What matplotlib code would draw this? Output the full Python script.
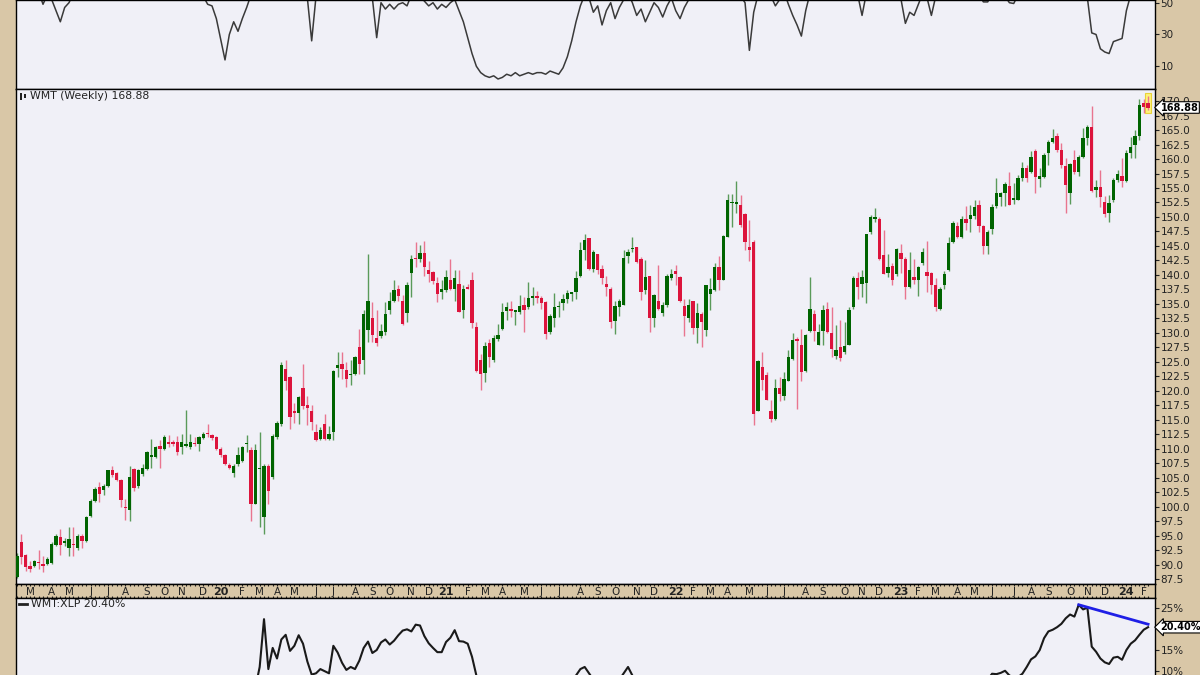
import numpy as np
import pandas as pd
import matplotlib
matplotlib.use("Agg")
import matplotlib.pyplot as plt
from matplotlib.patches import Rectangle
from matplotlib.transforms import blended_transform_factory

# weekly bars, Feb 2019 - Feb 2024
weeks = pd.date_range("2019-02-08", periods=262, freq="W-FRI")

opens = [88.0, 93.9, 91.8, 89.9, 89.8, 90.5, 90.2, 90.2, 90.3, 93.5,
         94.8, 93.8, 93.0, 93.6, 93.0, 95.0, 94.1, 98.5, 101.0, 103.4,
         102.9, 103.7, 106.3, 105.8, 104.7, 100.0, 99.4, 106.6, 103.7, 105.7,
         106.6, 108.6, 108.6, 110.6, 110.0, 111.2, 111.2, 111.2, 110.3, 110.6,
         110.3, 111.0, 110.9, 111.9, 112.8, 112.4, 112.1, 110.0, 109.0, 107.3,
         105.8, 107.4, 108.0, 110.8, 109.8, 100.6, 106.6, 98.3, 107.1, 105.1,
         112.0, 114.3, 123.8, 122.4, 116.5, 116.2, 120.5, 117.5, 116.6, 113.0,
         111.7, 114.3, 111.7, 112.9, 124.0, 124.7, 123.7, 122.7, 123.0, 127.6,
         125.4, 130.5, 132.6, 129.2, 129.4, 130.2, 133.9, 135.5, 137.6, 135.5,
         133.4, 140.4, 142.8, 142.7, 143.8, 140.8, 140.6, 138.7, 137.1, 137.4,
         139.1, 137.6, 138.5, 134.0, 137.9, 139.1, 131.1, 125.3, 123.1, 128.3,
         125.3, 129.0, 130.7, 133.8, 134.2, 133.7, 133.6, 134.8, 134.4, 136.0,
         136.3, 136.1, 135.3, 130.2, 132.5, 134.4, 135.1, 135.8, 136.8, 137.1,
         139.9, 144.3, 146.3, 141.1, 143.6, 141.1, 138.4, 137.6, 132.1, 134.5,
         134.9, 143.2, 144.5, 144.8, 142.8, 137.4, 139.8, 132.5, 135.6, 133.4,
         134.8, 139.4, 140.7, 139.7, 134.6, 132.5, 135.5, 130.9, 133.3, 130.6,
         136.7, 137.4, 141.3, 139.2, 146.6, 152.4, 152.3, 152.0, 150.6, 144.8,
         145.7, 116.6, 124.1, 122.7, 116.6, 115.2, 120.5, 119.1, 121.8, 125.5,
         129.0, 127.9, 123.4, 130.4, 133.3, 128.0, 130.3, 134.2, 130.0, 126.1,
         127.5, 126.7, 128.0, 134.5, 139.4, 138.5, 138.6, 147.4, 149.6, 149.7,
         143.4, 140.3, 141.5, 140.1, 143.8, 142.8, 137.9, 139.6, 139.2, 142.1,
         140.5, 140.4, 138.2, 134.2, 138.2, 140.8, 145.7, 148.4, 146.5, 149.7,
         149.7, 150.1, 152.0, 148.4, 145.0, 148.0, 151.9, 153.4, 154.1, 155.3,
         153.0, 153.0, 156.8, 158.5, 157.8, 161.3, 156.6, 156.9, 161.0, 163.0,
         164.0, 161.5, 158.8, 154.2, 159.8, 157.8, 160.4, 163.6, 165.6, 154.6,
         155.1, 152.6, 150.7, 152.9, 156.4, 157.0, 156.2, 161.1, 162.4, 164.0,
         169.7, 169.6]

highs = [92.0, 95.4, 91.9, 90.7, 90.8, 92.6, 91.6, 91.3, 93.9, 95.3,
         96.2, 94.6, 96.5, 96.5, 95.3, 95.3, 98.5, 101.4, 103.4, 104.3,
         104.0, 106.4, 107.1, 106.0, 104.8, 101.4, 107.1, 106.8, 106.6, 107.4,
         109.7, 111.7, 110.6, 111.6, 112.4, 112.4, 111.5, 112.3, 112.6, 116.7,
         112.6, 112.0, 112.3, 112.9, 114.3, 112.6, 112.3, 110.3, 109.2, 107.5,
         107.4, 110.3, 110.6, 112.4, 110.3, 110.9, 112.9, 107.4, 107.4, 112.6,
         114.9, 125.0, 125.4, 122.5, 118.0, 119.2, 124.7, 119.2, 117.5, 114.3,
         113.8, 116.0, 114.0, 123.7, 126.7, 126.7, 125.0, 125.3, 126.1, 130.7,
         133.9, 143.7, 135.3, 133.9, 131.6, 135.3, 137.1, 139.1, 138.2, 136.5,
         138.8, 143.4, 145.7, 145.1, 145.9, 142.4, 140.7, 139.7, 139.1, 140.9,
         142.8, 140.9, 140.8, 138.2, 138.5, 140.5, 131.9, 126.4, 128.4, 129.0,
         129.6, 131.6, 135.1, 135.3, 135.6, 134.0, 136.5, 136.2, 138.8, 137.9,
         137.2, 136.3, 135.6, 133.3, 136.9, 135.6, 136.8, 137.4, 137.0, 140.7,
         145.7, 147.0, 146.4, 144.3, 143.7, 141.7, 139.9, 137.9, 135.6, 135.9,
         144.3, 144.4, 146.6, 144.9, 143.1, 142.5, 139.9, 136.8, 141.8, 135.3,
         140.2, 141.1, 141.8, 139.8, 135.9, 135.9, 135.5, 135.1, 133.6, 138.2,
         139.4, 142.0, 143.2, 146.9, 153.9, 153.9, 156.2, 153.8, 150.7, 149.4,
         146.0, 125.3, 126.7, 123.3, 118.4, 122.1, 122.4, 123.3, 127.0, 130.0,
         129.3, 130.7, 129.9, 139.7, 133.9, 131.6, 134.8, 135.3, 134.5, 131.3,
         132.3, 131.9, 134.5, 139.9, 140.5, 140.8, 147.1, 150.3, 151.5, 150.0,
         147.7, 143.6, 142.0, 144.6, 145.3, 143.1, 144.0, 142.8, 141.5, 144.7,
         145.9, 140.5, 139.4, 137.9, 140.7, 146.6, 149.3, 149.2, 150.1, 151.9,
         152.0, 153.0, 152.9, 148.6, 147.7, 152.3, 156.8, 154.3, 156.1, 157.8,
         155.8, 157.2, 159.5, 158.9, 161.3, 161.8, 158.4, 161.0, 163.3, 165.1,
         164.5, 162.8, 160.1, 159.3, 161.5, 160.7, 165.4, 165.9, 169.1, 156.4,
         158.1, 153.6, 153.8, 156.8, 158.1, 160.1, 161.5, 163.8, 165.0, 170.3,
         170.3, 170.9]

lows = [87.8, 90.2, 89.0, 88.8, 89.6, 89.3, 88.8, 90.0, 90.2, 93.3,
        91.8, 93.2, 91.6, 91.5, 92.6, 93.0, 93.9, 98.2, 100.8, 100.8,
        102.0, 103.5, 105.1, 104.5, 100.0, 97.8, 97.5, 102.8, 103.3, 105.4,
        106.4, 106.8, 108.5, 106.8, 109.8, 110.3, 110.6, 108.9, 109.2, 110.3,
        110.0, 110.6, 109.7, 111.7, 112.1, 111.6, 109.8, 108.6, 107.3, 106.6,
        105.2, 107.1, 107.7, 109.4, 97.6, 100.5, 96.5, 95.3, 100.5, 104.8,
        111.7, 114.0, 120.1, 113.5, 114.5, 114.3, 116.9, 114.2, 113.2, 111.3,
        111.5, 111.5, 111.5, 111.5, 122.4, 122.1, 120.7, 121.0, 122.7, 123.0,
        123.0, 128.4, 128.4, 127.7, 129.2, 129.6, 133.3, 135.3, 135.6, 131.3,
        131.9, 136.2, 141.4, 142.3, 139.9, 138.8, 138.5, 135.3, 135.9, 137.1,
        137.4, 135.6, 133.6, 132.5, 137.5, 130.9, 123.3, 120.2, 121.5, 124.1,
        125.0, 128.7, 130.5, 132.2, 132.8, 131.3, 133.3, 130.2, 134.2, 134.8,
        135.1, 134.2, 129.0, 129.9, 131.0, 132.8, 133.9, 135.1, 135.6, 135.9,
        139.7, 142.5, 140.8, 140.5, 140.2, 138.5, 136.3, 130.9, 129.8, 133.0,
        134.8, 142.0, 144.0, 142.0, 135.7, 136.8, 130.2, 131.0, 133.9, 133.0,
        134.5, 139.1, 138.2, 135.3, 129.5, 131.9, 129.8, 128.3, 127.6, 129.4,
        133.9, 137.2, 137.4, 139.1, 146.6, 148.3, 150.7, 148.3, 144.3, 142.4,
        114.1, 116.6, 120.1, 118.4, 114.6, 115.0, 118.2, 118.4, 121.7, 125.3,
        116.9, 121.8, 123.3, 130.2, 128.7, 127.9, 127.9, 130.0, 125.8, 125.6,
        125.2, 126.4, 127.9, 134.2, 135.9, 136.2, 135.2, 147.0, 149.2, 142.5,
        140.1, 139.7, 138.2, 139.9, 140.4, 135.8, 137.8, 138.4, 136.3, 141.7,
        137.1, 136.8, 133.8, 134.0, 137.6, 140.7, 145.5, 146.3, 146.3, 147.7,
        147.4, 149.7, 147.4, 143.6, 143.6, 147.1, 151.6, 151.9, 151.9, 152.0,
        152.3, 152.9, 156.2, 156.1, 157.6, 154.1, 155.2, 156.8, 158.9, 162.8,
        161.2, 158.5, 150.7, 152.3, 157.5, 157.1, 160.1, 162.4, 154.3, 153.4,
        151.8, 150.0, 149.2, 152.6, 156.1, 155.2, 156.1, 160.1, 160.1, 163.2,
        168.0, 168.4]

closes = [91.6, 91.3, 89.6, 89.3, 90.7, 90.3, 89.8, 91.0, 93.6, 95.0,
          93.5, 94.1, 94.5, 93.5, 95.0, 94.1, 98.2, 101.1, 103.1, 102.2,
          103.7, 106.3, 105.6, 104.7, 101.2, 99.8, 105.2, 103.3, 106.4, 106.8,
          109.4, 108.9, 110.4, 110.0, 112.1, 110.8, 110.9, 109.4, 111.2, 110.9,
          111.2, 110.8, 112.0, 112.6, 112.5, 111.9, 110.0, 108.9, 107.4, 106.8,
          107.1, 108.9, 110.3, 110.9, 100.6, 109.8, 106.8, 107.1, 102.8, 112.3,
          114.4, 124.4, 121.8, 115.6, 116.2, 118.9, 117.4, 117.0, 114.6, 111.5,
          113.2, 111.7, 112.6, 123.5, 124.4, 123.8, 122.1, 123.0, 125.8, 124.7,
          133.2, 135.5, 129.6, 128.3, 130.3, 133.3, 135.5, 137.4, 136.3, 131.6,
          138.3, 142.8, 142.7, 143.8, 141.3, 140.1, 138.9, 136.7, 137.5, 139.7,
          137.6, 139.4, 133.7, 137.6, 137.6, 131.7, 123.5, 123.0, 127.7, 125.9,
          129.2, 129.7, 133.6, 134.4, 133.8, 133.9, 134.6, 133.9, 136.1, 136.3,
          136.1, 135.1, 129.9, 133.0, 134.4, 134.6, 135.9, 136.9, 136.9, 139.5,
          144.3, 146.0, 141.1, 144.0, 140.8, 139.4, 137.9, 131.9, 134.6, 135.5,
          143.0, 144.0, 144.7, 142.2, 137.1, 139.7, 132.5, 136.5, 134.2, 134.9,
          139.9, 140.1, 140.2, 135.5, 132.9, 134.8, 130.9, 133.4, 131.9, 138.2,
          137.5, 141.3, 139.2, 146.7, 153.0, 152.6, 152.4, 148.6, 145.7, 144.3,
          116.1, 125.2, 121.9, 118.5, 115.2, 120.5, 119.4, 122.1, 125.8, 128.8,
          128.6, 123.3, 129.6, 134.2, 130.3, 130.2, 133.9, 130.2, 127.3, 127.0,
          125.7, 127.7, 134.0, 139.5, 137.9, 139.7, 147.1, 150.0, 150.0, 142.7,
          140.2, 141.4, 139.2, 144.4, 142.8, 138.0, 140.8, 139.2, 141.4, 144.0,
          139.9, 138.2, 134.5, 137.5, 140.1, 145.5, 148.9, 146.5, 149.7, 149.0,
          150.3, 151.7, 148.4, 145.0, 147.4, 151.7, 154.2, 154.1, 155.7, 152.0,
          153.2, 156.8, 158.5, 156.8, 160.4, 156.9, 157.0, 160.7, 163.0, 163.7,
          161.5, 158.9, 155.5, 159.1, 157.8, 160.4, 163.7, 165.5, 154.5, 155.2,
          153.5, 150.5, 152.4, 156.4, 157.4, 156.2, 161.1, 162.1, 164.0, 169.3,
          169.0, 168.88]

# upper indicator panel
osc = [62, 58, 60, 64, 66, 57, 49, 55, 52, 45,
       38, 47, 50, 56, 60, 63, 68, 72, 75, 70,
       73, 76, 70, 66, 58, 56, 64, 62, 68, 70,
       74, 71, 73, 70, 74, 68, 66, 61, 65, 63,
       67, 64, 66, 54, 49, 48, 40, 27, 14, 30,
       38, 32, 40, 47, 55, 58, 62, 60, 66, 70,
       73, 78, 72, 64, 60, 62, 57, 53, 26, 54,
       58, 56, 60, 66, 70, 68, 62, 60, 63, 60,
       68, 72, 53, 28, 50, 46, 49, 46, 49, 50,
       48, 55, 56, 54, 51, 48, 50, 46, 49, 47,
       50, 52, 45, 38, 28, 18, 10, 6, 4, 3,
       4, 2, 3, 5, 4, 6, 4, 5, 6, 5,
       6, 6, 5, 7, 6, 5, 9, 16, 26, 38,
       48, 55, 53, 44, 48, 36, 45, 50, 40, 47,
       52, 56, 50, 42, 46, 38, 44, 50, 47, 41,
       48, 53, 45, 40, 47, 52, 56, 60, 58, 62,
       66, 70, 68, 64, 66, 62, 58, 54, 50, 20,
       44, 55, 58, 60, 54, 48, 52, 57, 49, 42,
       36, 29, 45, 56, 60, 63, 58, 62, 57, 60,
       64, 62, 66, 70, 55, 42, 56, 68, 72, 66,
       60, 58, 56, 60, 52, 37, 44, 42, 49, 56,
       53, 42, 54, 58, 62, 66, 70, 64, 62, 60,
       63, 58, 55, 50.5, 50.5, 56, 60, 58, 54, 50,
       49.5, 55, 60, 63, 58, 62, 57, 64, 68, 70,
       66, 60, 56, 62, 65, 68, 70, 53, 31, 30,
       21, 19, 18, 25.5, 26.5, 27.5, 45, 55, 62, 70,
       74, 72]

# WMT:XLP relative performance, percent
ratio = [2, 3, 2, 1, 2, 3, 2, 3, 4, 5,
         4, 5, 4, 5, 6, 5, 6, 7, 8, 7,
         6, 7, 6, 5, 4, 5, 6, 5, 6, 7,
         8, 7, 6, 7, 6, 5, 6, 5, 6, 7,
         6, 7, 6, 7, 6, 5, 4, 3, 3, 4,
         5, 6, 5, 4, 5, 6, 11, 22.3, 10.5, 15.5,
         13, 17.5, 18.6, 14.8, 16, 18.5, 16.5, 12.3, 9.2, 9.5,
         10.5, 10, 9.5, 16, 14.4, 12, 10.3, 11, 10.5, 12.5,
         15.5, 17, 14.3, 15, 16.8, 17.5, 16.3, 17.2, 18.5, 19.6,
         19.9, 19.4, 21, 20.8, 18.3, 16.6, 15.5, 14.5, 14.5, 16.9,
         17.9, 19.7, 17.1, 17.0, 16.5, 13.4, 9.0, 7, 6, 5,
         4, 3, 4, 3, 2, 3, 4, 3, 4, 5,
         4, 3, 4, 5, 6, 5, 6, 7, 8, 9.0,
         10.5, 11, 9.5, 8, 7, 6, 5, 6, 7, 8,
         9.5, 11, 9, 7, 6, 5, 4, 5, 4, 3,
         4, 5, 6, 5, 4, 3, 2, 3, 4, 5,
         6, 7, 6, 5, 6, 7, 8, 7, 6, 7,
         8, 7, 6, 5, 4, 3, 2, 1, 0, 1,
         2, 1, 0, -1, 0, 1, 2, 3, 2, 3,
         4, 5, 4, 5, 6, 5, 4, 5, 6, 7,
         6, 5, 6, 7, 8, 7, 6, 7, 8, 7,
         8, 7, 6, 7, 8, 7, 6, 7, 8, 7,
         8, 7, 8, 8, 8, 9.4, 9.3, 9.6, 10.1, 9.0,
         8.5, 8.6, 9.4, 11, 12.8, 13.5, 15, 17.8, 19.4, 19.8,
         20.4, 21.2, 22.5, 23.4, 22.9, 25.7, 24.6, 25.0, 15.8, 14.6,
         13, 12.1, 11.7, 13.2, 13.4, 12.7, 15, 16.5, 17.3, 18.6,
         19.8, 20.4]

# hand-drawn trend line on the ratio panel
trend_x = [245, 261]
trend_y = [25.7, 21.1]

assert len(opens) == len(highs) == len(lows) == len(closes) == len(weeks)
assert len(osc) == len(weeks) and len(ratio) == len(weeks)

beige = "#d9c7a7"
panel = "#f0f0f7"
up_col = "#006400"
dn_col = "#dc143c"
fs = 7.5
tfs = 7.8

fig = plt.figure(figsize=(12, 6.75), dpi=100, facecolor=beige)
L = 16 / 1200
W = 1139 / 1200
ax_top = fig.add_axes([L, 1 - 89 / 675, W, 89 / 675])
ax = fig.add_axes([L, 1 - 584 / 675, W, 495 / 675])
ax_d = fig.add_axes([L, 1 - 598 / 675, W, 14 / 675])
ax_bot = fig.add_axes([L, 0, W, 77 / 675])

x = np.arange(len(weeks))
xlim = (-0.23, 262.6)

for a in (ax_top, ax, ax_bot):
    a.set_facecolor(panel)
    a.set_xlim(*xlim)
    a.yaxis.tick_right()
    a.tick_params(axis="y", direction="out", length=3, width=0.8,
                  labelsize=fs, pad=1, colors="#222222")
    a.tick_params(axis="x", bottom=False, labelbottom=False)
    for s in a.spines.values():
        s.set_color("black")
        s.set_linewidth(1)

# candles
o = np.array(opens)
c = np.array(closes)
h = np.maximum(np.array(highs), np.maximum(o, c))
l = np.minimum(np.array(lows), np.minimum(o, c))
up = c >= o
body_col = np.where(up, up_col, dn_col)
wick_col = np.where(up, "#5a9a5a", "#e9758f")

# highlight the latest bar
ax.add_patch(Rectangle((x[-1] - 0.6, l[-1] - 0.5), 1.2, h[-1] - l[-1] + 1.0,
                       facecolor="#fff37a", edgecolor="#e8d23a", lw=0.8, zorder=1))
ax.vlines(x, l, h, colors=wick_col, lw=1, zorder=2)
ax.bar(x, np.maximum(np.abs(c - o), 0.2), bottom=np.minimum(o, c), width=0.76,
       color=body_col, lw=0, zorder=3)

ax.set_ylim(86.72, 172.07)
ax.set_yticks(np.arange(87.5, 170.1, 2.5))
ax.set_yticklabels([f"{v:.1f}" for v in np.arange(87.5, 170.1, 2.5)])

# little chart icon before the title
for k, (y0, y1) in enumerate([(0.978, 0.992), (0.981, 0.990)]):
    ax.add_patch(Rectangle((0.0035 + k * 0.0035, y0), 0.0022, y1 - y0,
                           transform=ax.transAxes, facecolor="#222222", lw=0))
ax.text(0.0125, 0.986, f"WMT (Weekly) {closes[-1]:.2f}", transform=ax.transAxes,
        fontsize=tfs, va="center", ha="left", color="#222222")
tr = blended_transform_factory(ax.transAxes, ax.transData)
ax.text(1.005, closes[-1], f"{closes[-1]:.2f}", transform=tr, fontsize=7,
        fontweight="bold", va="center", ha="left", zorder=5,
        bbox=dict(boxstyle="larrow,pad=0.08", fc="white", ec="black", lw=0.8))

# upper panel
ax_top.plot(x, osc, color="#3a3a3a", lw=1.1)
ax_top.set_ylim(-4.3, 51.7)
ax_top.set_yticks([10, 30, 50])
ax_top.set_yticklabels(["10", "30", "50"])

# date band
ax_d.set_facecolor(beige)
ax_d.set_xlim(*xlim)
ax_d.set_ylim(0, 1)
ax_d.set_yticks([])
months = weeks.month.values
starts = [i for i in range(1, len(weeks)) if months[i] != months[i - 1]]
ax_d.set_xticks(x, minor=True)
ax_d.set_xticks([])
ax_d.tick_params(which="minor", direction="in", top=True, bottom=True,
                 labelbottom=False, color="#222222", width=0.8, length=1.5)
for s in ax_d.spines.values():
    s.set_color("black")
    s.set_linewidth(1)
for i in starts:
    d = weeks[i]
    if d.month == 1:
        ax_d.text(i, 0.45, f"{d.year % 100:02d}", fontsize=fs + 0.5,
                  fontweight="bold", ha="center", va="center", color="#222222")
    else:
        ax_d.text(i, 0.45, "JFMAMJJASOND"[d.month - 1], fontsize=fs,
                  ha="center", va="center", color="#222222")

# ratio panel
ax_bot.plot(x, ratio, color="#1a1a1a", lw=1.5, zorder=2)
ax_bot.plot(trend_x, trend_y, color="#1f1fe6", lw=2, zorder=3)
ax_bot.set_ylim(9.1, 27.3)
ax_bot.set_yticks([10, 15, 25])
ax_bot.set_yticklabels(["10%", "15%", "25%"])
ax_bot.spines["bottom"].set_visible(False)
ax_bot.plot([0.003, 0.0095], [0.925, 0.925], transform=ax_bot.transAxes,
            color="#222222", lw=2)
ax_bot.text(0.0135, 0.925, f"WMT:XLP {ratio[-1]:.2f}%", transform=ax_bot.transAxes,
            fontsize=tfs, va="center", ha="left", color="#222222")
trb = blended_transform_factory(ax_bot.transAxes, ax_bot.transData)
ax_bot.text(1.005, ratio[-1], f"{ratio[-1]:.2f}%", transform=trb, fontsize=7,
            fontweight="bold", va="center", ha="left", zorder=5,
            bbox=dict(boxstyle="larrow,pad=0.08", fc="white", ec="black", lw=0.8))

fig.savefig("out.png", dpi=100, facecolor=beige)
